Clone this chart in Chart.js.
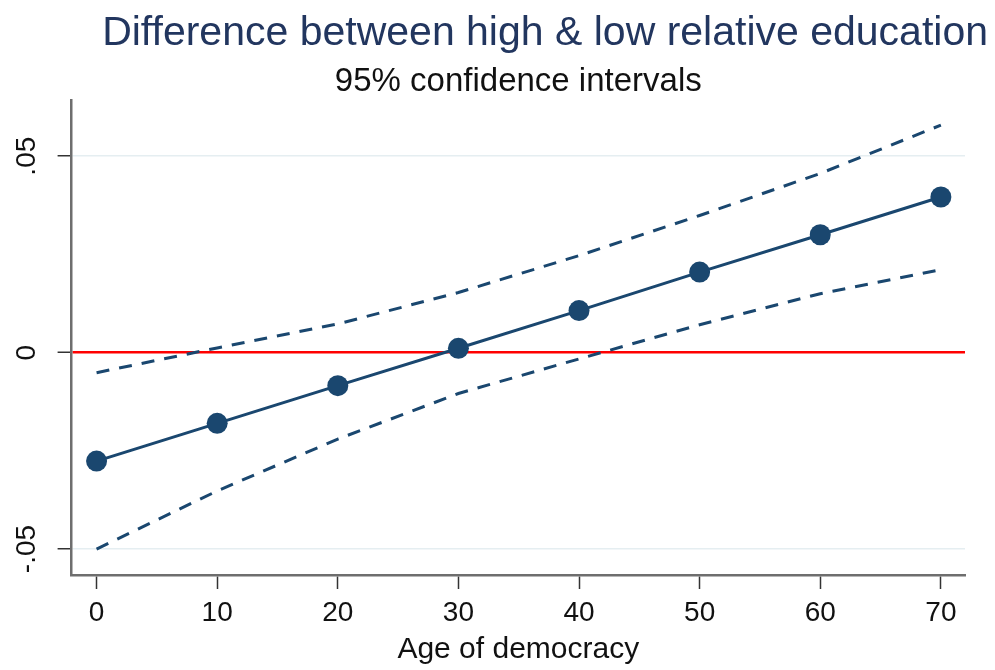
<!DOCTYPE html>
<html>
<head>
<meta charset="utf-8">
<script src="https://cdn.jsdelivr.net/npm/chart.js@4"></script>
<style>
  html, body { margin: 0; padding: 0; background: #fff; }
  #wrap { width: 995px; height: 670px; }
</style>
</head>
<body>
<div id="wrap"><canvas id="chart"></canvas></div>
<script>
// age of democracy (x) and the estimated difference with its 95% CI
const ages = [0, 10, 20, 30, 40, 50, 60, 70];
const estimate = [-0.0276, -0.0180, -0.0084, 0.0011, 0.0107, 0.0205, 0.0300, 0.0396];
const upperCI = [-0.0051, 0.0012, 0.0073, 0.0153, 0.0247, 0.0349, 0.0456, 0.0579];
const lowerCI = [-0.0500, -0.0352, -0.0220, -0.0104, -0.0016, 0.0071, 0.0150, 0.0211];

const xTicks = [0, 10, 20, 30, 40, 50, 60, 70];
const yTicks = [-0.05, 0, 0.05];
const yTickLabels = ['-.05', '0', '.05'];

const NAVY = '#1a476f';
const FONT = 'Liberation Sans, Arial, Helvetica, sans-serif';

const toPoints = vals => ages.map((a, i) => ({x: a, y: vals[i]}));

const data = {
  datasets: [
    {
      label: 'Upper CI',
      data: toPoints(upperCI),
      borderColor: NAVY,
      borderWidth: 3,
      borderDash: [13, 10],
      pointRadius: 0,
      fill: false,
    },
    {
      label: 'Lower CI',
      data: toPoints(lowerCI),
      borderColor: NAVY,
      borderWidth: 3,
      borderDash: [13, 10],
      pointRadius: 0,
      fill: false,
    },
    {
      label: 'Difference',
      data: toPoints(estimate),
      borderColor: NAVY,
      backgroundColor: NAVY,
      borderWidth: 3,
      pointRadius: 10.5,
      pointBorderWidth: 0,
      fill: false,
    }
  ]
};

const config = {
  type: 'line',
  data: data,
  options: {
    responsive: true,
    maintainAspectRatio: false,
    animation: false,
    layout: { padding: { left: 12, right: 7, top: 0, bottom: 0 } },
    scales: {
      x: {
        type: 'linear',
        min: -2.07,
        max: 72.0,
        afterBuildTicks: s => { s.ticks = xTicks.map(v => ({value: v})); },
        // keep the plot's right edge in, while the title can run further right
        afterFit: s => { s.paddingRight = Math.max(s.paddingRight, 30); },
        border: { color: '#6e6e6e', width: 2.5 },
        grid: { drawOnChartArea: false, tickLength: 14, tickColor: '#333', tickWidth: 1.5 },
        ticks: { font: { family: FONT, size: 28, lineHeight: 1.0 }, color: '#111', padding: 10, maxRotation: 0 },
        title: {
          display: true,
          text: 'Age of democracy',
          font: { family: FONT, size: 30, lineHeight: 1.0 },
          color: '#111',
          padding: { top: -2, bottom: 5 }
        }
      },
      y: {
        type: 'linear',
        min: -0.0566,
        max: 0.0643,
        afterBuildTicks: s => { s.ticks = yTicks.map(v => ({value: v})); },
        border: { color: '#6e6e6e', width: 2.5 },
        grid: {
          color: c => (c.tick && c.tick.value === 0) ? '#ff0000' : '#e5eef1',
          lineWidth: c => (c.tick && c.tick.value === 0) ? 2.5 : 1.5,
          tickColor: '#333',
          tickWidth: 1.5,
          tickLength: 14
        },
        ticks: {
          font: { family: FONT, size: 28 },
          color: '#111',
          padding: 6,
          minRotation: 90,
          maxRotation: 90,
          crossAlign: 'center',
          callback: v => yTickLabels[yTicks.indexOf(v)]
        }
      }
    },
    plugins: {
      legend: { display: false },
      tooltip: { enabled: false },
      title: {
        display: true,
        text: 'Difference between high & low relative education',
        align: 'end',
        color: '#22365f',
        font: { family: FONT, size: 41, weight: 'normal' },
        padding: { top: 9, bottom: 0 }
      },
      subtitle: {
        display: true,
        text: '95% confidence intervals',
        fullSize: false,
        color: '#111',
        font: { family: FONT, size: 33, lineHeight: 1.1 },
        padding: { top: 5.5, bottom: 0 }
      }
    }
  }
};

new Chart(document.getElementById('chart'), config);
</script>
</body>
</html>
